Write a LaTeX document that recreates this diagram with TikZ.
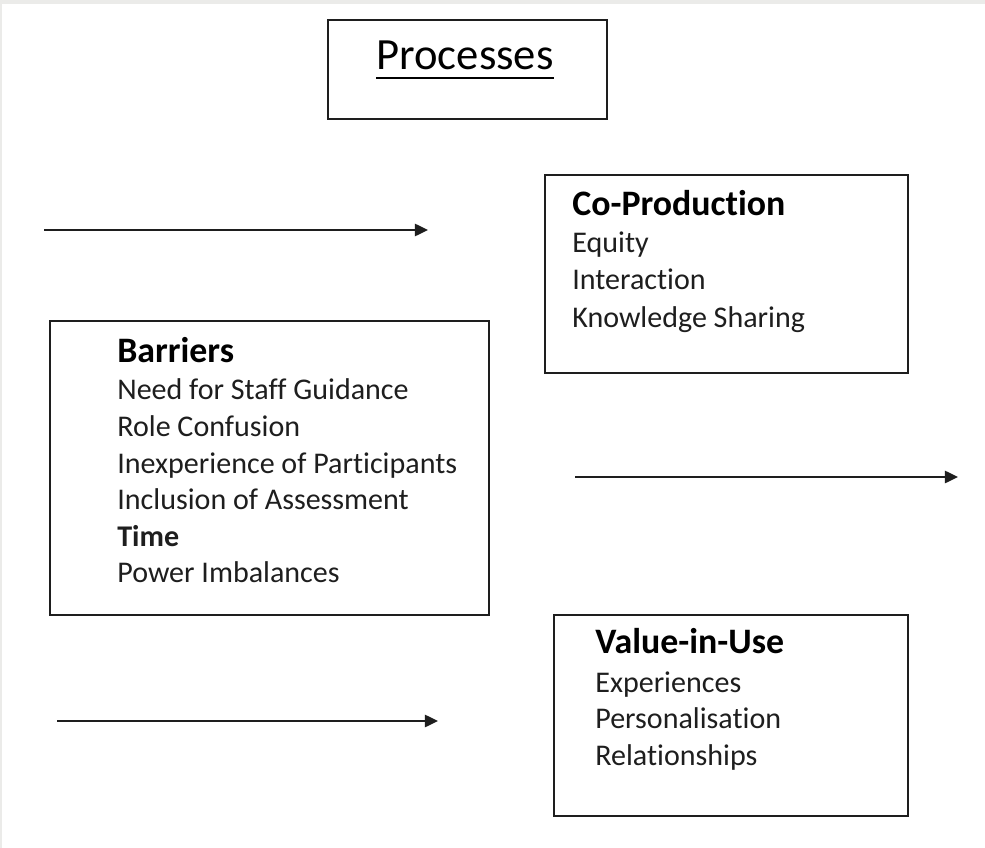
\documentclass[tikz,border=0pt]{standalone}
\usepackage{fontspec}
\setmainfont[RawFeature={-liga}]{Carlito}
\usetikzlibrary{arrows.meta}
\definecolor{bordergray}{HTML}{EBEBE9}
\definecolor{ink}{HTML}{1E1E1E}
\begin{document}
\begin{tikzpicture}[x=0.02cm,y=-0.02cm,
  box/.style={draw=ink, line width=1.1pt, inner sep=0pt, outer sep=0pt},
  arr/.style={draw=ink, line width=1.2pt, -{Triangle[length=7.5pt,width=7pt]}},
  head/.style={anchor=base west, inner sep=0pt, font=\fontsize{20.4}{24}\selectfont\bfseries, text=black},
  item/.style={anchor=base west, inner sep=0pt, font=\fontsize{17.1}{20}\selectfont, text=ink}]
\fill[bordergray] (0,0) rectangle (985,848);
\fill[white] (2,4) rectangle (985,848);
\useasboundingbox (0,0) rectangle (985,848);

% boxes
\node[box, minimum width=5.58cm, minimum height=1.98cm] (procbox) at (467.5,69.5) {};
\node[box, minimum width=8.78cm, minimum height=5.88cm] (barbox) at (269.5,468) {};
\node[box, minimum width=7.26cm, minimum height=3.96cm] (cobox) at (726.5,274) {};
\node[box, minimum width=7.08cm, minimum height=4.02cm] (valbox) at (731,715.5) {};

% title
\node[anchor=base, inner sep=0pt, font=\fontsize{25.4}{30}\selectfont, text=black] (proc) at (465,70) {Processes};
\draw[line width=1.3pt, black] ([yshift=-4.5pt]proc.base west) -- ([yshift=-4.5pt]proc.base east);

% Barriers
\node[head] (bh) at (117,362) {Barriers};
\node[item] (b1) at (117,399) {Need for Staff Guidance};
\node[item] (b2) at (117,436) {Role Confusion};
\node[item] (b3) at (117,473) {Inexperience of Participants};
\node[item] (b4) at (117,509) {Inclusion of Assessment};
\node[item, font=\fontsize{17.1}{20}\selectfont\bfseries] (b5) at (117,546) {Time};
\node[item] (b6) at (117,582) {Power Imbalances};

% Co-Production
\node[head] (ch) at (572,215) {Co-Production};
\node[item] (c1) at (572,253) {Equity};
\node[item] (c2) at (572,290) {Interaction};
\node[item] (c3) at (572,327) {Knowledge Sharing};

% Value-in-Use
\node[head] (vh) at (595,653) {Value-in-Use};
\node[item] (v1) at (595,692) {Experiences};
\node[item] (v2) at (595,728) {Personalisation};
\node[item] (v3) at (595,765) {Relationships};

% arrows
\coordinate (a1s) at (44,230);
\coordinate (a1e) at (428,230);
\coordinate (a2s) at (575,477);
\coordinate (a2e) at (958,477);
\coordinate (a3s) at (57,721);
\coordinate (a3e) at (438,721);
\draw[arr] (a1s) -- (a1e);
\draw[arr] (a2s) -- (a2e);
\draw[arr] (a3s) -- (a3e);
\end{tikzpicture}
\end{document}
